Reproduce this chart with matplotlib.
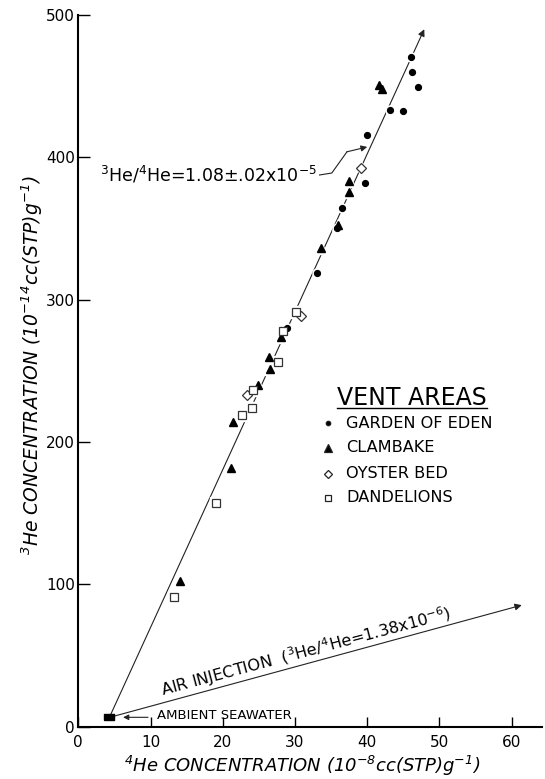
import matplotlib
matplotlib.use("Agg")
import matplotlib.pyplot as plt

plt.rcParams['font.family'] = ['DejaVu Sans']
plt.rcParams['mathtext.default'] = 'regular'

# 4He (10^-8 cc STP/g) and 3He (10^-14 cc STP/g)
eden_x = [46.1, 46.2, 47.1, 43.2, 45.0, 40.0, 39.7, 36.5, 35.8, 33.1, 28.9]
eden_y = [470.3, 460.2, 449.6, 433.3, 432.8, 415.7, 381.8, 364.2, 350.1, 319.0, 280.3]

clam_x = [41.7, 42.1, 37.5, 37.5, 35.9, 33.6, 28.1, 26.4, 26.5, 24.9, 21.4, 21.1, 14.1]
clam_y = [450.5, 448.0, 383.6, 375.9, 352.7, 336.1, 273.6, 259.5, 251.1, 240.1, 214.3, 181.5, 102.6]

oyster_x = [39.1, 30.8, 23.4]
oyster_y = [392.3, 288.5, 233.1]

dand_x = [30.2, 28.3, 27.6, 24.2, 24.0, 22.7, 19.0, 13.3]
dand_y = [291.6, 278.2, 256.4, 236.5, 223.6, 218.9, 157.4, 91.3]

ambient_x = [4.3]
ambient_y = [6.5]

# fitted trend (vent fluids) and air-injection line, start/end points
trend_x = [4.3, 47.9]
trend_y = [6.5, 490.0]
air_x = [4.3, 61.4]
air_y = [6.5, 85.4]

xticks = [0, 10, 20, 30, 40, 50, 60]
yticks = [0, 100, 200, 300, 400, 500]

W, H = 545, 779


def fig_xy(px, py):
    return px / W, 1 - py / H


fig = plt.figure(figsize=(W / 100, H / 100), dpi=100)
ax = fig.add_axes([78.3 / W, 1 - 726.7 / H, (542 - 78.3) / W, (726.7 - 15) / H])
ax.set_xlim(0, 64.2)
ax.set_ylim(0, 500)

for s in ['top', 'right']:
    ax.spines[s].set_visible(False)
for s in ['left', 'bottom']:
    ax.spines[s].set_linewidth(1.5)
ax.set_xticks(xticks)
ax.set_yticks(yticks)
ax.tick_params(axis='x', direction='in', length=7, width=1, pad=6, labelsize=11)
ax.tick_params(axis='y', direction='in', length=8.5, width=1, pad=2.5, labelsize=11)

# trend line and arrow
ax.annotate('', xy=(trend_x[1], trend_y[1]), xytext=(trend_x[0], trend_y[0]),
            arrowprops=dict(arrowstyle='-|>', lw=0.8, color='#222222',
                            mutation_scale=10, shrinkA=0, shrinkB=0))
ax.annotate('', xy=(air_x[1], air_y[1]), xytext=(air_x[0], air_y[0]),
            arrowprops=dict(arrowstyle='-|>', lw=0.8, color='#222222',
                            mutation_scale=10, shrinkA=0, shrinkB=0),
            annotation_clip=False)

# white halos so the line breaks around the points
halo = dict(linestyle='none', color='white', zorder=3)
ax.plot(eden_x, eden_y, 'o', ms=6.5, **halo)
ax.plot(clam_x, clam_y, '^', ms=8.5, **halo)
ax.plot(oyster_x, oyster_y, 'D', ms=6.5, **halo)
ax.plot(dand_x, dand_y, 's', ms=8, **halo)

ax.plot(eden_x, eden_y, 'o', ms=4.2, color='black', linestyle='none', zorder=4)
ax.plot(clam_x, clam_y, '^', ms=6.2, color='black', linestyle='none', zorder=4)
ax.plot(oyster_x, oyster_y, 'D', ms=4.6, mfc='white', mec='#333333', mew=0.9,
        linestyle='none', zorder=4)
ax.plot(dand_x, dand_y, 's', ms=5.8, mfc='white', mec='#333333', mew=0.9,
        linestyle='none', zorder=4)
# ambient seawater: flat filled block
block = [(-1, -0.55), (1, -0.55), (1, 0.55), (-1, 0.55), (-1, -0.55)]
ax.plot(ambient_x, ambient_y, marker=block, ms=7.5, color='black',
        linestyle='none', zorder=5)

# ratio label with leader
ax.text(33.1, 387.6, r'$^3$He/$^4$He=1.08$\pm$.02x10$^{-5}$', ha='right',
        va='center', fontsize=12.5)
ax.plot([33.4, 35.1, 37.2], [387.6, 389.0, 403.9], color='#222222', lw=0.8)
ax.annotate('', xy=(40.0, 407.3), xytext=(37.2, 403.9),
            arrowprops=dict(arrowstyle='-|>', lw=0.8, color='#222222',
                            mutation_scale=9, shrinkA=0, shrinkB=0))

ax.text(11.7, 21.6, r'AIR INJECTION  ($^3$He/$^4$He=1.38x10$^{-6}$)', rotation=15,
        rotation_mode='anchor', ha='left', va='baseline', fontsize=11.6)

ax.text(10.9, 5.1, 'AMBIENT SEAWATER', ha='left', va='baseline', fontsize=9.5)
ax.annotate('', xy=(6.2, 6.6), xytext=(9.65, 6.6),
            arrowprops=dict(arrowstyle='-|>', lw=0.8, color='#222222',
                            mutation_scale=8, shrinkA=0, shrinkB=0))

# axis labels
ax.set_xlabel(r'$^4$He CONCENTRATION (10$^{-8}$cc(STP)g$^{-1}$)', fontsize=13,
              style='italic', va='center')
ax.xaxis.set_label_coords((302 - 78.3) / (542 - 78.3), (726.7 - 766) / (726.7 - 15))
ax.set_ylabel(r'$^3$He CONCENTRATION (10$^{-14}$cc(STP)g$^{-1}$)', fontsize=13.5,
              style='italic', va='center')
ax.yaxis.set_label_coords((32 - 78.3) / (542 - 78.3), (726.7 - 365) / (726.7 - 15))

# legend
tx, ty = fig_xy(337, 405)
fig.text(tx, ty, 'VENT AREAS', fontsize=17, ha='left', va='baseline')
x0, y0 = fig_xy(337, 408)
x1, _ = fig_xy(487, 408)
fig.add_artist(plt.Line2D([x0, x1], [y0, y0], color='black', lw=1))

entries = [('o', 'GARDEN OF EDEN', 3.2, 'black'),
           ('^', 'CLAMBAKE', 5.5, 'black'),
           ('D', 'OYSTER BED', 4.2, 'white'),
           ('s', 'DANDELIONS', 4.6, 'white')]
rows = [423, 448, 474, 498]
for (m, lab, ms, fc), py in zip(entries, rows):
    mx, my = fig_xy(328, py)
    fig.add_artist(plt.Line2D([mx], [my], marker=m, ms=ms, mfc=fc, mec='#222222',
                              mew=0.9, linestyle='none'))
    lx, ly = fig_xy(346, py)
    fig.text(lx, ly, lab, fontsize=11.6, ha='left', va='center')

fig.savefig('out.png', dpi=100)
